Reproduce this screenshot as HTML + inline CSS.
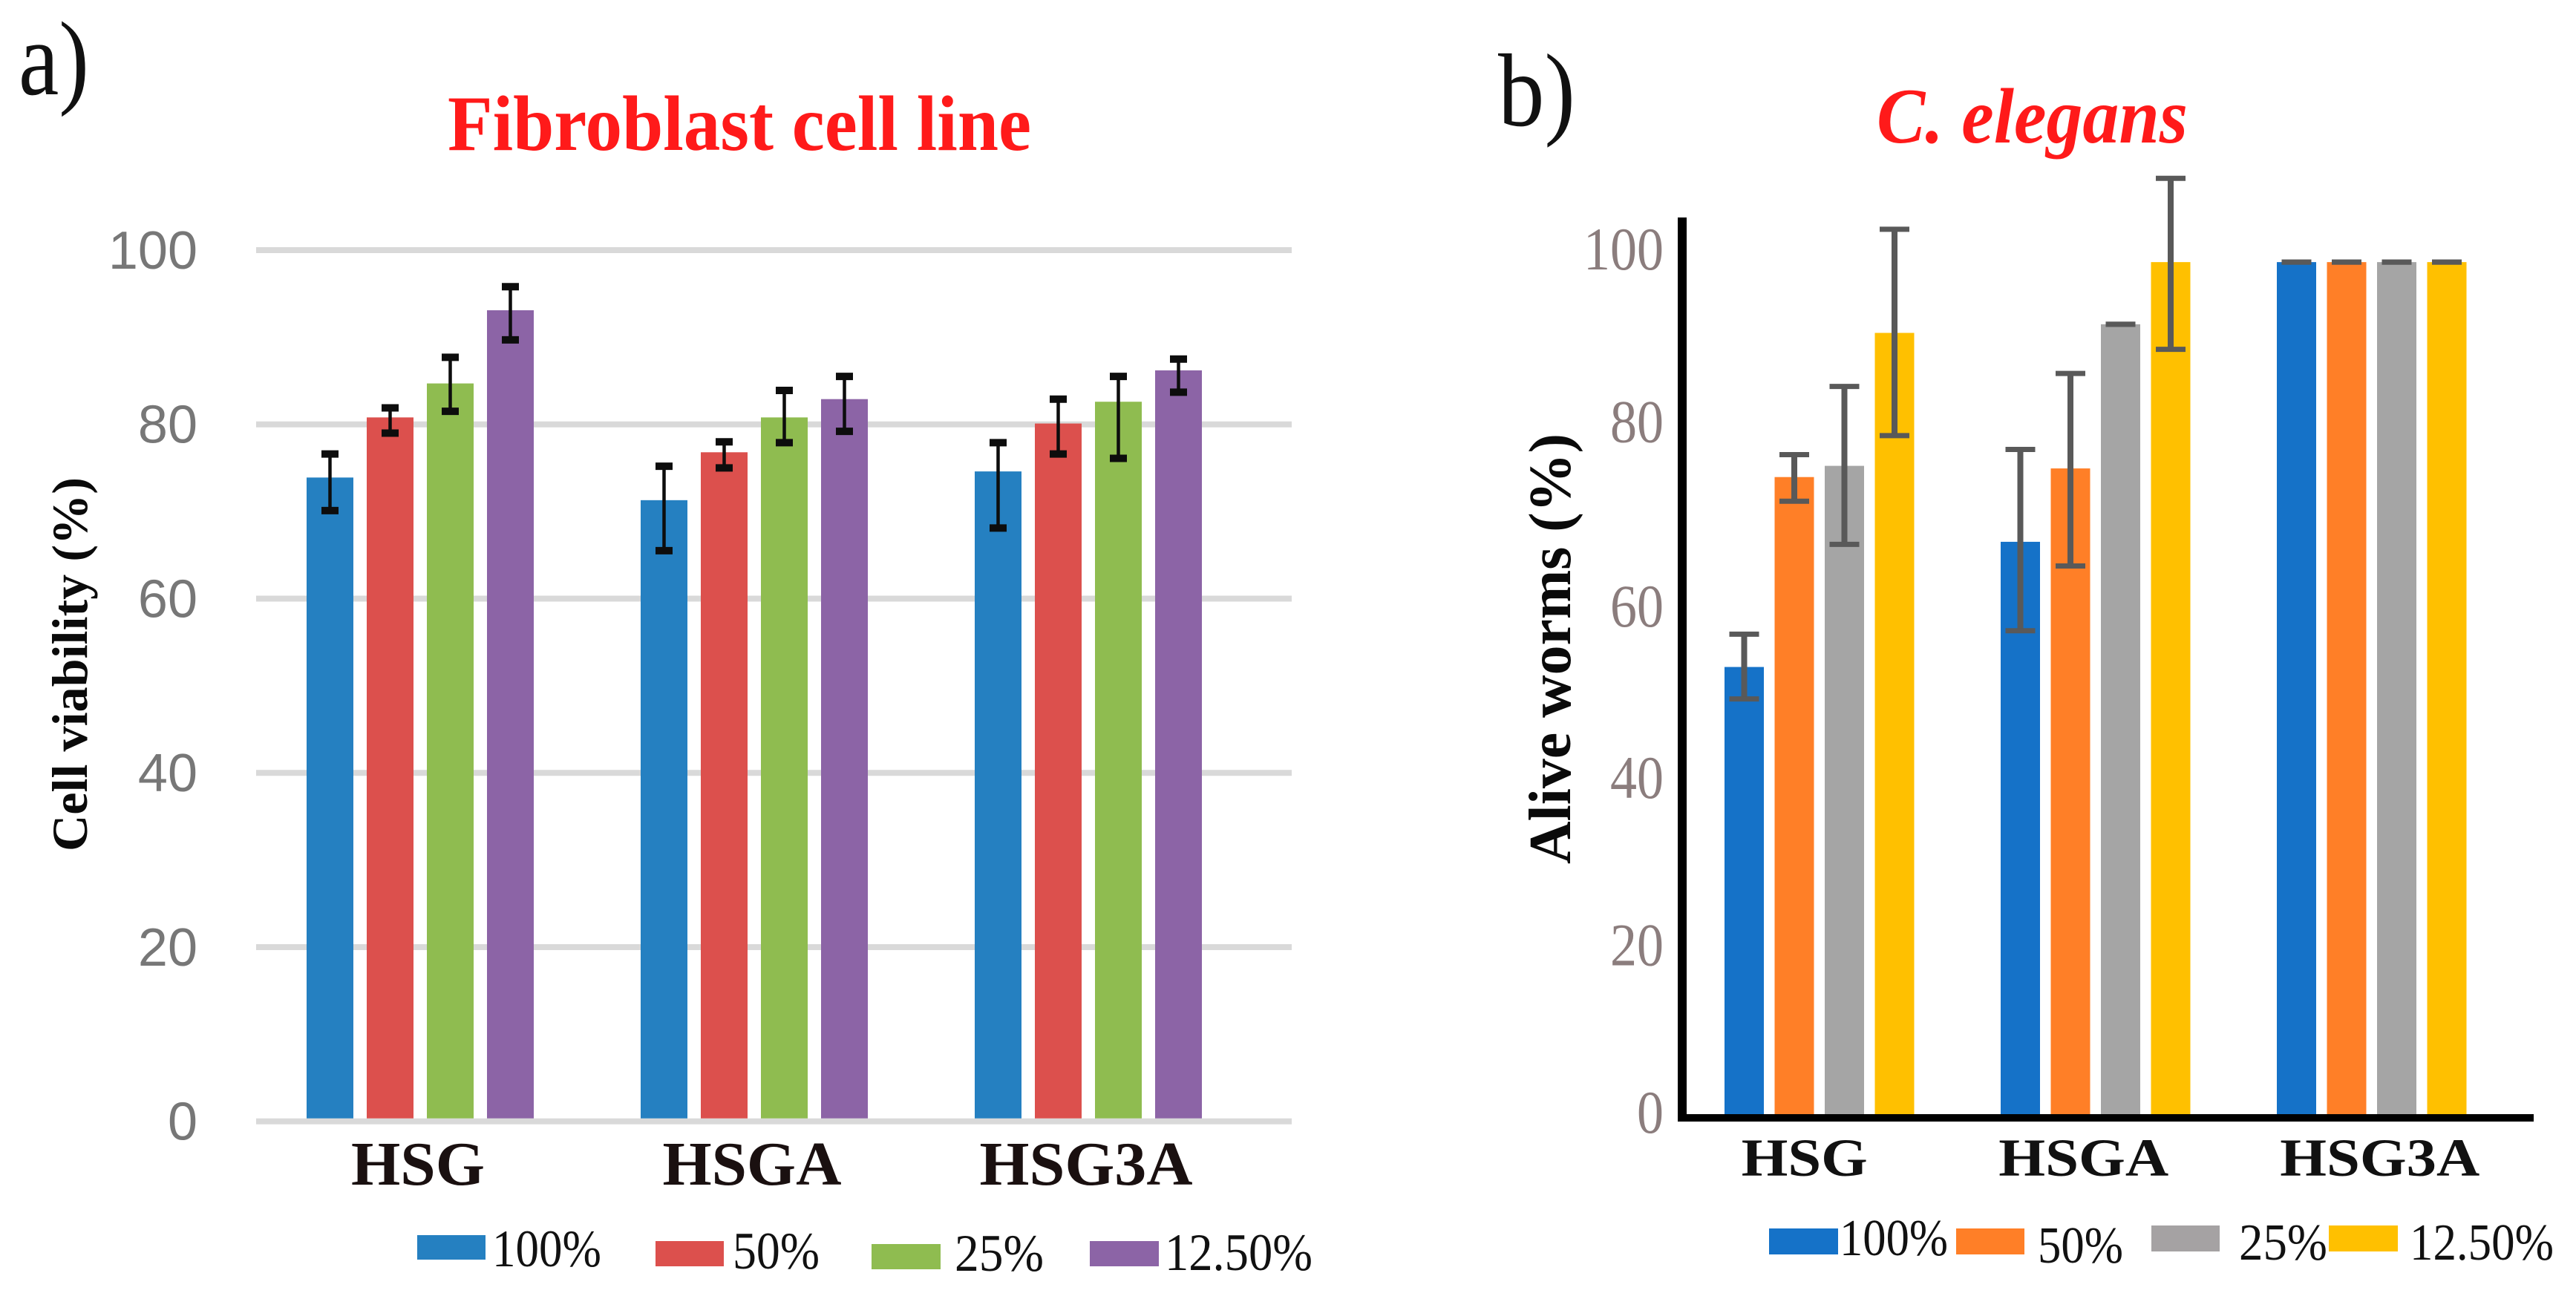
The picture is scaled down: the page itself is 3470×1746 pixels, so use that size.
<!DOCTYPE html>
<html lang="en">
<head>
<meta charset="utf-8">
<title>Fibroblast cell line and C. elegans viability charts</title>
<style>
html,body{margin:0;padding:0;background:#fff;}
svg{display:block;}
text{font-family:"Liberation Serif",serif;}
</style>
</head>
<body>
<svg id="figure" xmlns="http://www.w3.org/2000/svg" width="3470" height="1746" viewBox="0 0 3470 1746">
  <rect x="0" y="0" width="3470" height="1746" fill="#ffffff"/>

  <text x="25" y="127" font-size="142" textLength="95" lengthAdjust="spacingAndGlyphs" fill="#111">a)</text>
  <text x="2018" y="169" font-size="140" textLength="104" lengthAdjust="spacingAndGlyphs" fill="#111">b)</text>

  <text x="603" y="202" font-size="106" font-weight="bold" textLength="786" lengthAdjust="spacingAndGlyphs" fill="#ff1a1a">Fibroblast cell line</text>
  <text x="2528" y="192" font-size="106" font-weight="bold" font-style="italic" textLength="419" lengthAdjust="spacingAndGlyphs" fill="#ff1a1a">C. elegans</text>

  <text transform="translate(117 895) rotate(-90)" text-anchor="middle" font-size="68" font-weight="bold" textLength="504" lengthAdjust="spacingAndGlyphs" fill="#0a0a0a">Cell viability (%)</text>
  <text transform="translate(2115 874) rotate(-90)" text-anchor="middle" font-size="80" font-weight="bold" textLength="580" lengthAdjust="spacingAndGlyphs" fill="#0a0a0a">Alive worms (%)</text>

  <g id="left-chart"></g>
  <g id="right-chart"></g>

  <g font-size="71" fill="#111">
    <rect x="562" y="1664" width="92" height="33" fill="#2580c1"/>
    <text x="663" y="1706" textLength="147" lengthAdjust="spacingAndGlyphs">100%</text>
    <rect x="883" y="1672" width="92" height="34" fill="#dc504d"/>
    <text x="987" y="1709" textLength="117" lengthAdjust="spacingAndGlyphs">50%</text>
    <rect x="1174" y="1676" width="93" height="34" fill="#8fbc50"/>
    <text x="1286" y="1712" textLength="120" lengthAdjust="spacingAndGlyphs">25%</text>
    <rect x="1468" y="1672" width="93" height="34" fill="#8c64a6"/>
    <text x="1569" y="1711" textLength="199" lengthAdjust="spacingAndGlyphs">12.50%</text>
  </g>

  <g font-size="70" fill="#111">
    <rect x="2383" y="1655" width="93" height="35" fill="#1572c8"/>
    <text x="2478" y="1691" textLength="146" lengthAdjust="spacingAndGlyphs">100%</text>
    <rect x="2635" y="1655" width="92" height="35" fill="#ff7f27"/>
    <text x="2745" y="1701" textLength="115" lengthAdjust="spacingAndGlyphs">50%</text>
    <rect x="2898" y="1651" width="92" height="35" fill="#a5a2a3"/>
    <text x="3016" y="1697" textLength="119" lengthAdjust="spacingAndGlyphs">25%</text>
    <rect x="3137" y="1651" width="93" height="35" fill="#ffc000"/>
    <text x="3246" y="1697" textLength="194" lengthAdjust="spacingAndGlyphs">12.50%</text>
  </g>
</svg>

<script>
// ---- shared ----
const categories = ['HSG', 'HSGA', 'HSG3A'];
const seriesNames = ['100', '50', '25', '12-5'];
const yTicks = [0, 20, 40, 60, 80, 100];

// ---- left chart: cell viability (%) ----
const leftBars100 = [73.9, 71.3, 74.6];
const leftBars50 = [80.8, 76.8, 80.1];
const leftBars25 = [84.7, 80.8, 82.6];
const leftBars12 = [93.1, 82.9, 86.2];
const leftHigh100 = [76.6, 75.2, 77.9];
const leftHigh50 = [81.9, 78.0, 82.9];
const leftHigh25 = [87.7, 83.9, 85.5];
const leftHigh12 = [95.8, 85.5, 87.5];
const leftLow100 = [70.1, 65.5, 68.1];
const leftLow50 = [79.0, 75.0, 76.6];
const leftLow25 = [81.5, 77.9, 76.1];
const leftLow12 = [89.7, 79.2, 83.7];

// ---- right chart: alive worms (%) ----
const rightBars100 = [51.8, 66.3, 98.7];
const rightBars50 = [73.8, 74.8, 98.7];
const rightBars25 = [75.1, 91.5, 98.7];
const rightBars12 = [90.5, 98.7, 98.7];
const rightHigh100 = [55.6, 77.0, 98.7];
const rightHigh50 = [76.4, 85.8, 98.7];
const rightHigh25 = [84.3, 91.5, 98.7];
const rightHigh12 = [102.5, 108.4, 98.7];
const rightLow100 = [48.1, 56.0, 98.7];
const rightLow50 = [71.0, 63.5, 98.7];
const rightLow25 = [66.0, 91.5, 98.7];
const rightLow12 = [78.6, 88.6, 98.7];

const SVGNS = 'http://www.w3.org/2000/svg';
function make(tag, parent, attrs) {
  const node = document.createElementNS(SVGNS, tag);
  for (const key in attrs) node.setAttribute(key, attrs[key]);
  parent.appendChild(node);
  return node;
}

function drawSeries(root, cfg, values, color, sIndex) {
  values.forEach(function (v, g) {
    const x = cfg.barX(g, sIndex);
    const bottom = cfg.y(0) - cfg.baseGap;
    const bar = make('rect', root, { x: x, y: cfg.y(v), width: cfg.barW, height: bottom - cfg.y(v), fill: color });
    
    
  });
}

function drawErrors(root, cfg, high, low, sIndex) {
  high.forEach(function (hi, g) {
    const cx = cfg.barX(g, sIndex) + cfg.barW / 2;
    const yHi = cfg.y(hi);
    const yLo = cfg.y(low[g]);
    const group = make('g', root, { stroke: cfg.errColor, fill: 'none' });
    
    
    make('line', group, { x1: cx, x2: cx, y1: yHi, y2: yLo, 'stroke-width': cfg.stemW });
    make('line', group, { x1: cx - cfg.capW / 2, x2: cx + cfg.capW / 2, y1: yHi, y2: yHi, 'stroke-width': cfg.capH });
    make('line', group, { x1: cx - cfg.capW / 2, x2: cx + cfg.capW / 2, y1: yLo, y2: yLo, 'stroke-width': cfg.capH });
  });
}

// left chart
(function () {
  const root = document.getElementById('left-chart');
  const cfg = {
    y: function (v) { return 1510.7 - v * 11.737; },
    barX: function (g, s) { return 413 + g * 450 + s * 81; },
    barW: 63, baseGap: 4, errColor: '#0d0d0d', stemW: 4.5, capW: 23, capH: 10
  };
  const xLabelWidths = [180, 241, 287];

  yTicks.forEach(function (t) {
    const grid = make('rect', root, { x: 345, y: cfg.y(t) - 4, width: 1395, height: 8, fill: '#d9d9d9' });
    
    
    const label = make('text', root, { x: 266, y: cfg.y(t) + 25, 'text-anchor': 'end', 'font-size': 72, fill: '#777777', style: 'font-family:"Liberation Sans",sans-serif' });
    
    
    label.textContent = String(t);
  });

  const colors = ['#2580c1', '#dc504d', '#8fbc50', '#8c64a6'];
  drawSeries(root, cfg, leftBars100, colors[0], 0);
  drawSeries(root, cfg, leftBars50, colors[1], 1);
  drawSeries(root, cfg, leftBars25, colors[2], 2);
  drawSeries(root, cfg, leftBars12, colors[3], 3);
  drawErrors(root, cfg, leftHigh100, leftLow100, 0);
  drawErrors(root, cfg, leftHigh50, leftLow50, 1);
  drawErrors(root, cfg, leftHigh25, leftLow25, 2);
  drawErrors(root, cfg, leftHigh12, leftLow12, 3);

  categories.forEach(function (c, g) {
    const center = (cfg.barX(g, 0) + cfg.barX(g, 3) + cfg.barW) / 2 - 3;
    const label = make('text', root, { x: center, y: 1596, 'text-anchor': 'middle', 'font-size': 84, 'font-weight': 'bold', fill: '#1a1010', textLength: xLabelWidths[g], lengthAdjust: 'spacingAndGlyphs' });
    
    
    label.textContent = c;
  });
})();

// right chart
(function () {
  const root = document.getElementById('right-chart');
  const cfg = {
    y: function (v) { return 1501 - v * 11.63; },
    barX: function (g, s) { return 2323 + g * 372 + s * 67.5; },
    barW: 53, baseGap: 0, errColor: '#595959', stemW: 8, capW: 40, capH: 7
  };
  const xLabelWidths = [170, 229, 269];
  const xLabelShift = function (g) { return g === 0 ? -20 : (g === 1 ? -16 : 11); };
  const tickShift = function (t) { return t === 60 ? 16 : (t === 40 ? 14 : (t === 20 ? 7 : 0)); };

  const colors = ['#1572c8', '#ff7f27', '#a5a5a5', '#ffc000'];
  drawSeries(root, cfg, rightBars100, colors[0], 0);
  drawSeries(root, cfg, rightBars50, colors[1], 1);
  drawSeries(root, cfg, rightBars25, colors[2], 2);
  drawSeries(root, cfg, rightBars12, colors[3], 3);
  drawErrors(root, cfg, rightHigh100, rightLow100, 0);
  drawErrors(root, cfg, rightHigh50, rightLow50, 1);
  drawErrors(root, cfg, rightHigh25, rightLow25, 2);
  drawErrors(root, cfg, rightHigh12, rightLow12, 3);

  const yAxis = make('rect', root, { x: 2260, y: 293, width: 12, height: 1218, fill: '#000000' });
  
  
  const xAxis = make('rect', root, { x: 2260, y: cfg.y(0), width: 1153, height: 10, fill: '#000000' });
  
  

  yTicks.forEach(function (t) {
    const text = String(t);
    const label = make('text', root, { x: 2241, y: cfg.y(t) + 25 + tickShift(t), 'text-anchor': 'end', 'font-size': 82, fill: '#8b7d7d', textLength: text.length * 36, lengthAdjust: 'spacingAndGlyphs' });
    
    
    label.textContent = text;
  });

  categories.forEach(function (c, g) {
    const center = (cfg.barX(g, 0) + cfg.barX(g, 3) + cfg.barW) / 2 + xLabelShift(g);
    const label = make('text', root, { x: center, y: 1584, 'text-anchor': 'middle', 'font-size': 72, 'font-weight': 'bold', fill: '#111111', textLength: xLabelWidths[g], lengthAdjust: 'spacingAndGlyphs' });
    
    
    label.textContent = c;
  });
})();
</script>
</body>
</html>
